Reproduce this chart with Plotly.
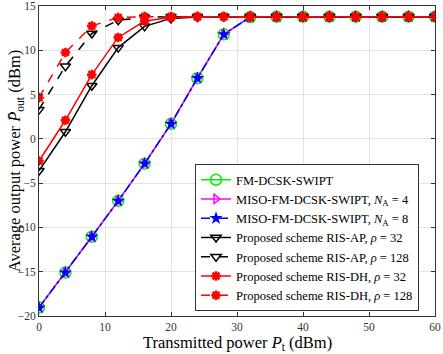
import plotly.graph_objects as go

pt = [0, 4, 8, 12, 16, 20, 24, 28, 32, 36, 40, 44, 48, 52, 56, 60]
fm_dcsk = [-19.05, -15.1, -11.05, -7.0, -2.8, 1.7, 6.85, 11.8, 13.75, 13.8, 13.8, 13.8, 13.8, 13.8, 13.8, 13.8]
miso_n4 = [-19.05, -15.1, -11.05, -7.0, -2.8, 1.7, 6.85, 11.8, 13.75, 13.8, 13.8, 13.8, 13.8, 13.8, 13.8, 13.8]
miso_n8 = [-19.05, -15.1, -11.05, -7.0, -2.8, 1.7, 6.85, 11.8, 13.75, 13.8, 13.8, 13.8, 13.8, 13.8, 13.8, 13.8]
ris_ap_32 = [-3.6, 0.8, 6.0, 10.3, 12.7, 13.6, 13.75, 13.8, 13.8, 13.8, 13.8, 13.8, 13.8, 13.8, 13.8, 13.8]
ris_ap_128 = [3.3, 8.2, 11.9, 13.4, 13.7, 13.8, 13.8, 13.8, 13.8, 13.8, 13.8, 13.8, 13.8, 13.8, 13.8, 13.8]
ris_dh_32 = [-2.5, 2.1, 7.25, 11.45, 13.3, 13.7, 13.8, 13.8, 13.8, 13.8, 13.8, 13.8, 13.8, 13.8, 13.8, 13.8]
ris_dh_128 = [4.65, 9.75, 12.75, 13.7, 13.8, 13.8, 13.8, 13.8, 13.8, 13.8, 13.8, 13.8, 13.8, 13.8, 13.8, 13.8]

labels = [
    "FM-DCSK-SWIPT",
    "MISO-FM-DCSK-SWIPT, <i>N</i><sub>A</sub> = 4",
    "MISO-FM-DCSK-SWIPT, <i>N</i><sub>A</sub> = 8",
    "Proposed scheme RIS-AP, <i>ρ</i> = 32",
    "Proposed scheme RIS-AP, <i>ρ</i> = 128",
    "Proposed scheme RIS-DH, <i>ρ</i> = 32",
    "Proposed scheme RIS-DH, <i>ρ</i> = 128",
]
x_title = "Transmitted power <i>P</i><sub>t</sub> (dBm)"
y_title = "Average output power <i>P̄</i><sub>out</sub> (dBm)"

series = [
    (fm_dcsk, "#00ee00", "solid", dict(symbol="circle-open", size=11, line=dict(width=1.5, color="#00ee00"))),
    (miso_n4, "#ff00ff", "solid", dict(symbol="triangle-right-open", size=8, line=dict(width=1.5, color="#ff00ff"))),
    (miso_n8, "#0000ff", "dashdot", dict(symbol="star", size=10, color="#0000ff", line=dict(width=0))),
    (ris_ap_32, "black", "solid", dict(symbol="triangle-down-open", size=9, line=dict(width=1.5, color="black"))),
    (ris_ap_128, "black", "dash", dict(symbol="triangle-down-open", size=9, line=dict(width=1.5, color="black"))),
    (ris_dh_32, "#ff0000", "solid", dict(symbol="asterisk-open", size=8, line=dict(width=2.5, color="#ff0000"))),
    (ris_dh_128, "#ff0000", "dash", dict(symbol="asterisk-open", size=8, line=dict(width=2.5, color="#ff0000"))),
]

fig = go.Figure()
for (y, col, dash, mk), name in zip(series, labels):
    fig.add_trace(go.Scatter(
        x=pt, y=y, name=name, mode="lines+markers",
        line=dict(color=col, width=1.5, dash=dash),
        marker=mk,
    ))

font_family = "Liberation Serif"
axis_common = dict(
    showgrid=True, gridcolor="#e3e3e3", gridwidth=1, automargin=False,
    zeroline=False, showline=True, linecolor="#333333", linewidth=1,
    mirror="allticks", ticks="inside", ticklen=4, tickcolor="#333333",
    tickfont=dict(family=font_family, size=11.5, color="#333333"),
)

fig.update_layout(
    width=443, height=354,
    margin=dict(l=39, r=8, t=6, b=38),
    paper_bgcolor="white", plot_bgcolor="white",
    font=dict(family=font_family, color="black"),
    showlegend=True,
    legend=dict(
        x=0.394, y=0.49, xanchor="left", yanchor="top",
        bgcolor="white", bordercolor="#333333", borderwidth=1,
        font=dict(family=font_family, size=12.5, color="black"),
        tracegroupgap=0, itemwidth=30,
    ),
    xaxis=dict(range=[0, 60], dtick=10, tick0=0, **axis_common),
    yaxis=dict(range=[-20, 15], dtick=5, tick0=0, **axis_common),
    annotations=[
        dict(text=x_title, xref="paper", yref="paper", x=0.5, y=-0.087,
             xanchor="center", yanchor="middle", showarrow=False,
             font=dict(family=font_family, size=16.5, color="black")),
        dict(text=y_title, xref="paper", yref="paper", x=-0.06, y=0.5,
             xanchor="center", yanchor="middle", showarrow=False, textangle=-90,
             font=dict(family=font_family, size=16.5, color="black")),
    ],
)

fig.write_html(
    "out.html",
    config={"displayModeBar": False},
    post_script="document.body.style.margin='0';document.body.style.padding='0';",
)
